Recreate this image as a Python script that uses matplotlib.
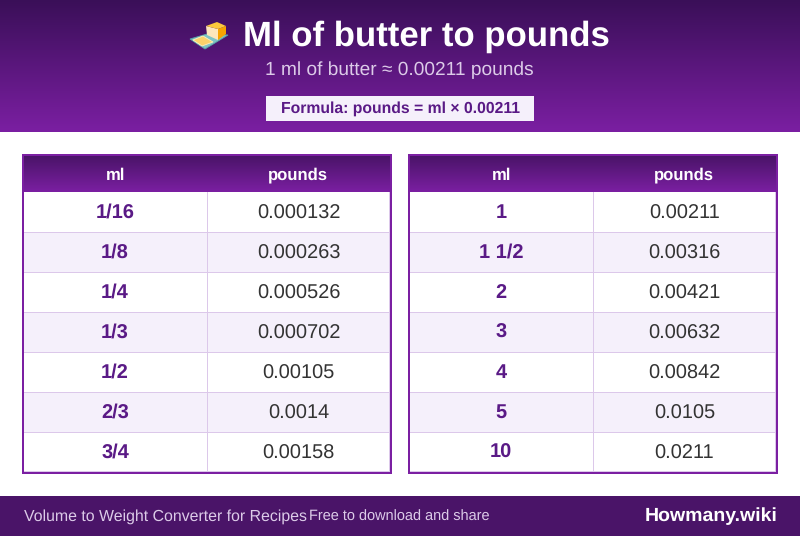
import numpy as np
import matplotlib
matplotlib.use("Agg")
import matplotlib.pyplot as plt
from matplotlib.colors import LinearSegmentedColormap
from matplotlib.patches import Rectangle, Polygon

plt.rcParams['font.family'] = ['Liberation Sans', 'DejaVu Sans']
plt.rcParams['text.hinting'] = 'no_hinting'

title = "Ml of butter to pounds"
subtitle = "1 ml of butter ≈ 0.00211 pounds"
formula = "Formula: pounds = ml × 0.00211"
col_heads = ["ml", "pounds"]
left_ml = ["1/16", "1/8", "1/4", "1/3", "1/2", "2/3", "3/4"]
left_lb = ["0.000132", "0.000263", "0.000526", "0.000702", "0.00105", "0.0014", "0.00158"]
right_ml = ["1", "1 1/2", "2", "3", "4", "5", "10"]
right_lb = ["0.00211", "0.00316", "0.00421", "0.00632", "0.00842", "0.0105", "0.0211"]
footer_left = "Volume to Weight Converter for Recipes"
footer_mid = "Free to download and share"
footer_right = "Howmany.wiki"

PURPLE = "#7b1fa2"
TEXT = "#5a1a86"

fig = plt.figure(figsize=(8, 5.36), dpi=100, facecolor="white")
ax = fig.add_axes([0, 0, 1, 1])
ax.set_xlim(0, 800)
ax.set_ylim(536, 0)
ax.axis("off")


def grad(x0, x1, y0, y1, c0, c1, z=1):
    cm = LinearSegmentedColormap.from_list("g", [c0, c1])
    ax.imshow(np.linspace(0, 1, 256)[:, None], cmap=cm, aspect="auto",
              extent=(x0, x1, y1, y0), zorder=z, interpolation="bilinear")


def rect(x, y, w, h, fc, z=2):
    ax.add_patch(Rectangle((x, y), w, h, fc=fc, ec="none", lw=0, zorder=z))


# banner
grad(0, 800, 0, 132, "#3a0f58", PURPLE)
ax.text(426.5, 46, title, color="white", fontsize=25.0, fontweight="bold",
        ha="center", va="baseline", zorder=5)
ax.text(399.5, 75.5, subtitle, color="#dccbe8", fontsize=13.8, ha="center", va="baseline", zorder=5)
rect(266, 96, 268, 25, "#f5f0fb", 3)
ax.text(400.5, 112.5, formula, color=TEXT, fontsize=11.3, fontweight="bold",
        ha="center", va="baseline", zorder=5)

# butter icon
ax.add_patch(Polygon([(190, 39), (207, 34), (228, 35), (205, 49)],
                     fc="#7fc4c4", ec="#5aa5a8", lw=0.6, zorder=4))
ax.add_patch(Polygon([(193, 40), (203, 36), (213, 42), (202, 46)], fc="#fbd26a", ec="#fff0c0", lw=0.6, zorder=5))
ax.add_patch(Polygon([(218, 29), (226, 26), (226, 34), (218, 40)], fc="#f7a400", zorder=6))
ax.add_patch(Polygon([(206, 26), (218, 29), (218, 40), (207, 35)], fc="#fde6bb", zorder=7))
ax.add_patch(Polygon([(206, 26), (217, 22), (226, 26), (218, 29)], fc="#fcc93c", zorder=7))


def table(x0, ml, lb):
    w, top, head, rh = 370, 154, 192, 40
    rect(x0, top, w, 320, PURPLE, 2)
    rect(x0 + 2, top + 2, w - 4, 316, "white", 2.1)
    grad(x0 + 2, x0 + w - 2, top + 2, head, "#4a1468", PURPLE, 2.15)
    cx = (x0 + 93, x0 + 276)
    head_x = (x0 + 93.5, x0 + 275.5)
    for c, s in zip(head_x, col_heads):
        ax.text(c, 179.5, s, color="white", fontsize=12.0, fontweight="bold",
                ha="center", va="baseline", zorder=5)
    for i, (a, b) in enumerate(zip(ml, lb)):
        y = head + i * rh
        if i % 2:
            rect(x0 + 2, y, w - 4, rh, "#f5f0fb", 2.2)
        if i:
            rect(x0 + 2, y - 0.5, w - 4, 1, "#dcc8ea", 2.3)
        ax.text(cx[0], y + 26, a, color=TEXT, fontsize=14.4, fontweight="bold",
                ha="center", va="baseline", zorder=5)
        ax.text(cx[1] + 0.5, y + 26.7, b, color="#333333", fontsize=14.4,
                ha="center", va="baseline", zorder=5)
    rect(x0 + 185, head, 1, 280, "#dcc8ea", 2.4)
    rect(x0 + 367, head, 1, 280, "#dcc8ea", 2.4)
    rect(x0 + 2, 471, w - 4, 1, "#dcc8ea", 2.4)


table(22, left_ml, left_lb)
table(408, right_ml, right_lb)

# footer
rect(0, 496, 800, 40, "#4a1468", 2)
ax.text(24, 521, footer_left, color="#dccbe8", fontsize=11.45, ha="left", va="baseline", zorder=5)
ax.text(309, 521, footer_mid, color="#dccbe8", fontsize=10.45, ha="left", va="baseline", zorder=5)
ax.text(778, 521, footer_right, color="white", fontsize=14.0, fontweight="bold",
        ha="right", va="baseline", zorder=5)

ax.set_xlim(0, 800)
ax.set_ylim(536, 0)
fig.savefig("out.png", dpi=100, facecolor="white")
